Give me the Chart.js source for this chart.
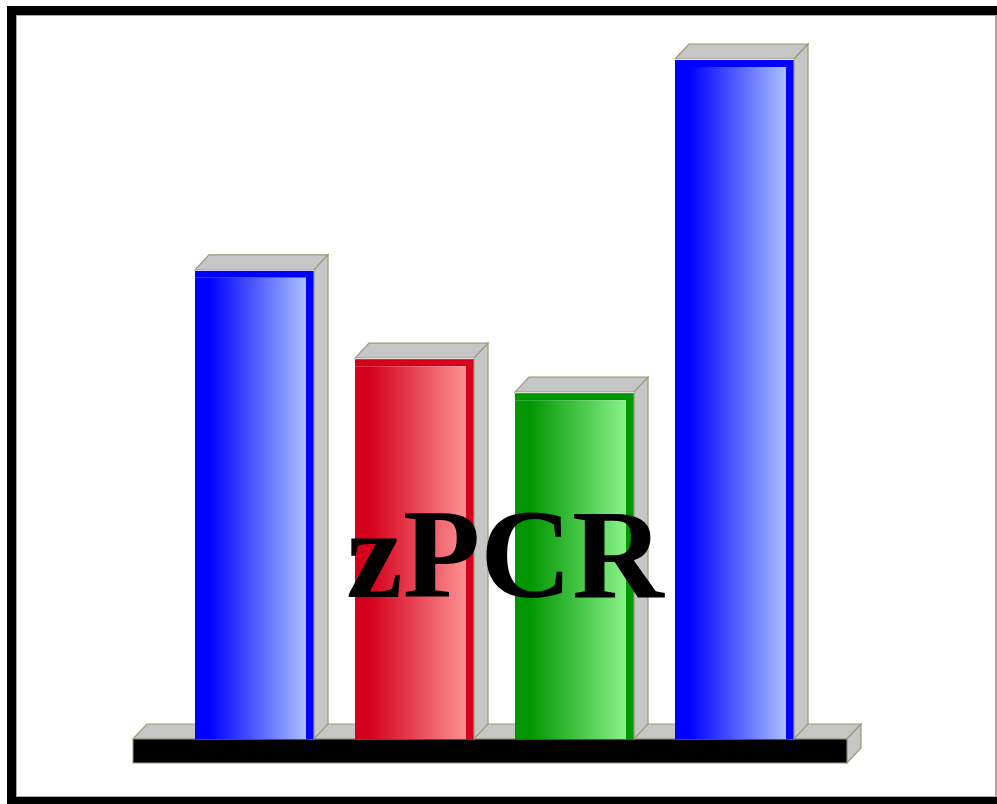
<!DOCTYPE html>
<html>
<head>
<meta charset="utf-8">
<script src="https://cdn.jsdelivr.net/npm/chart.js@4/dist/chart.umd.min.js"></script>
<style>
  html, body { margin: 0; padding: 0; background: #fff; }
  #wrap { width: 997px; height: 804px; }
</style>
</head>
<body>
<div id="wrap"><canvas id="logo"></canvas></div>
<script>
// Data for the bars
const labels = ['A', 'B', 'C', 'D'];
const values = [69, 56, 51, 100];
const faceColors = ['#0000ff', '#d4001c', '#009600', '#0000ff'];
const lightColors = ['#b8d0ff', '#ff9c9c', '#94fa94', '#b8d0ff'];
const title = 'zPCR';

const DX = 14, DY = 15;
const GRAY = '#c6c6c6', EDGE = '#9a9a7a';
const TITLE_FONT = 'bold 127px "Liberation Serif"';

function frontGradient(context) {
  const chart = context.chart;
  const i = context.dataIndex;
  if (!chart.chartArea) return faceColors[i];
  const x = chart.scales.x.getPixelForValue(i);
  const w = 119;
  const g = chart.ctx.createLinearGradient(x - w / 2, 0, x + w / 2, 0);
  g.addColorStop(0, faceColors[i]);
  g.addColorStop(0.12, faceColors[i]);
  g.addColorStop(1, lightColors[i]);
  return g;
}

function poly(ctx, pts, fill, stroke) {
  ctx.beginPath();
  ctx.moveTo(pts[0][0], pts[0][1]);
  for (let k = 1; k < pts.length; k++) ctx.lineTo(pts[k][0], pts[k][1]);
  ctx.closePath();
  ctx.fillStyle = fill;
  ctx.fill();
  if (stroke) {
    ctx.strokeStyle = stroke;
    ctx.lineWidth = 1.2;
    ctx.stroke();
  }
}

// frame, base slab, 3d faces and the title
const logoPlugin = {
  id: 'logo',
  beforeDraw(chart) {
    const ctx = chart.ctx;
    ctx.save();
    ctx.fillStyle = '#fff';
    ctx.fillRect(0, 0, chart.width, chart.height);
    ctx.fillStyle = '#000';
    ctx.fillRect(7, 6, 9, 798);
    ctx.fillRect(7, 6, 990, 9);
    ctx.fillRect(7, 797, 990, 7);
    ctx.fillStyle = '#a8a8a8';
    ctx.fillRect(16, 15, 1, 782);
    ctx.fillRect(16, 15, 981, 1);
    ctx.fillRect(16, 796, 981, 1);
    ctx.fillRect(995, 15, 2, 782);
    ctx.restore();
  },
  beforeDatasetsDraw(chart) {
    const ctx = chart.ctx;
    const a = chart.chartArea;
    const left = a.left - 41.5, right = a.right + 32.5;
    const top = a.bottom, h = 24;
    ctx.save();
    poly(ctx, [[left, top], [left + DX, top - DY], [right + DX, top - DY], [right, top]], GRAY, EDGE);
    poly(ctx, [[right, top], [right + DX, top - DY], [right + DX, top - DY + h], [right, top + h]], GRAY, EDGE);
    ctx.fillStyle = '#000';
    ctx.fillRect(left, top, right - left, h);
    ctx.strokeStyle = EDGE;
    ctx.lineWidth = 1;
    ctx.strokeRect(left, top, right - left, h);
    ctx.restore();
  },
  afterDatasetsDraw(chart) {
    const ctx = chart.ctx;
    const meta = chart.getDatasetMeta(0);
    ctx.save();
    meta.data.forEach(bar => {
      const w = bar.width;
      const l = bar.x - w / 2, r = bar.x + w / 2;
      const t = bar.y, b = bar.base;
      poly(ctx, [[l, t], [l + DX, t - DY], [r + DX, t - DY], [r, t]], GRAY, EDGE);
      poly(ctx, [[r, t], [r + DX, t - DY], [r + DX, b - DY], [r, b]], GRAY, EDGE);
      ctx.strokeStyle = '#eeeeee';
      ctx.lineWidth = 1;
      ctx.beginPath();
      ctx.moveTo(l, t + 0.5);
      ctx.lineTo(r, t + 0.5);
      ctx.stroke();
    });
    ctx.restore();
  },
  afterDraw(chart) {
    const ctx = chart.ctx;
    ctx.save();
    ctx.fillStyle = '#000';
    ctx.font = TITLE_FONT;
    ctx.textAlign = 'center';
    ctx.textBaseline = 'alphabetic';
    ctx.fillText(title, 505, 597);
    ctx.restore();
  }
};

const ctx = document.getElementById('logo').getContext('2d');
const chart = new Chart(ctx, {
  type: 'bar',
  data: {
    labels: labels,
    datasets: [{
      data: values,
      backgroundColor: frontGradient,
      borderColor: faceColors,
      borderWidth: { top: 8, right: 8, left: 0, bottom: 0 },
      borderSkipped: false,
      categoryPercentage: 1,
      barPercentage: 0.744
    }]
  },
  options: {
    responsive: true,
    maintainAspectRatio: false,
    animation: false,
    layout: { padding: { left: 174.5, right: 182.5, top: 59, bottom: 65 } },
    scales: {
      x: { display: false },
      y: { display: false, min: 0, max: 100 }
    },
    plugins: {
      legend: { display: false },
      tooltip: { enabled: false }
    }
  },
  plugins: [logoPlugin]
});

// make sure the serif face is ready before the title is painted
document.fonts.load(TITLE_FONT).then(() => chart.draw());
</script>
</body>
</html>
